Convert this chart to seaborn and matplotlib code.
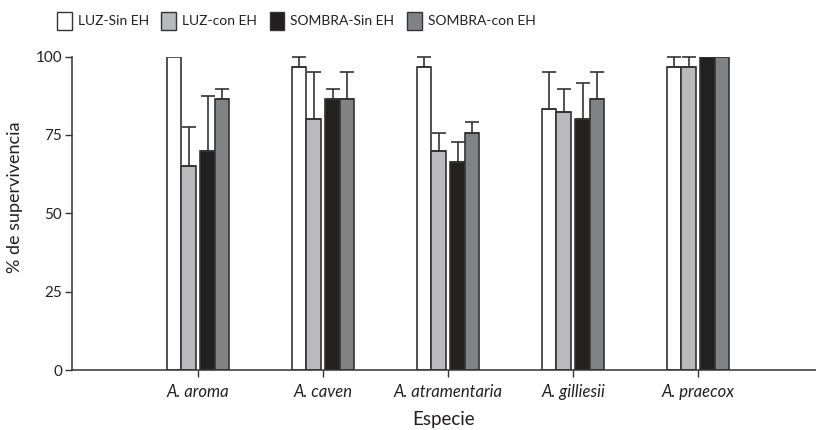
import numpy as np
import pandas as pd
import matplotlib.pyplot as plt
import matplotlib.patches as mpatches
import seaborn as sns

# Datos
especies = ['A. aroma', 'A. caven', 'A. atramentaria', 'A. gilliesii', 'A. praecox']
tratamientos = ['LUZ-Sin EH', 'LUZ-con EH', 'SOMBRA-Sin EH', 'SOMBRA-con EH']

luz_sin = [100, 96.7, 96.7, 83.3, 96.7]
luz_con = [65.2, 80.0, 69.7, 82.3, 96.7]
sombra_sin = [70.0, 86.5, 66.5, 80.0, 100]
sombra_con = [86.4, 86.4, 75.6, 86.4, 100]

# error (solo hacia arriba)
err_luz_sin = [0, 3.3, 3.3, 11.8, 3.3]
err_luz_con = [12.3, 15.0, 6.0, 7.3, 3.3]
err_sombra_sin = [17.3, 3.2, 6.3, 11.4, 0]
err_sombra_con = [3.1, 8.6, 3.4, 8.6, 0]

colores = ['#ffffff', '#b9babd', '#231f20', '#808285']

medias = [luz_sin, luz_con, sombra_sin, sombra_con]
errores = [err_luz_sin, err_luz_con, err_sombra_sin, err_sombra_con]

df = pd.DataFrame({
    'Especie': especies * len(tratamientos),
    'Tratamiento': np.repeat(tratamientos, len(especies)),
    'Supervivencia': np.concatenate(medias),
})

sns.set_style('ticks')
plt.rcParams['font.family'] = ['Lato', 'DejaVu Sans']
borde = '#333333'

fig, ax = plt.subplots(figsize=(8.16, 4.30), dpi=100)
fig.subplots_adjust(left=72/816, right=1.0, bottom=60/430, top=(430-56.5)/430)

ancho_grupo = 0.456
sns.barplot(data=df, x='Especie', y='Supervivencia', hue='Tratamiento',
            order=especies, hue_order=tratamientos,
            palette=dict(zip(tratamientos, colores)),
            width=ancho_grupo, errorbar=None, edgecolor=borde, linewidth=1.2,
            legend=False, ax=ax)

# separar los pares LUZ / SOMBRA y poner barras de error
slot = ancho_grupo / len(tratamientos)
sep = 0.019
for bar in list(ax.patches):
    c = bar.get_x() + bar.get_width() / 2
    k = int(round(c))
    h = int(round((c - k + ancho_grupo / 2 - slot / 2) / slot))
    d = -sep if h < 2 else sep
    bar.set_x(bar.get_x() + d)
    e = errores[h][k]
    if e > 0:
        ax.errorbar(c + d, bar.get_height(), yerr=[[0], [e]], fmt='none',
                    ecolor=borde, elinewidth=1.2, capsize=5.2, capthick=1.2,
                    clip_on=False, zorder=1)

ax.set_xlim(-1.008, 4.944)
ax.set_ylim(0, 100)
ax.set_yticks([0, 25, 50, 75, 100])
sns.despine(ax=ax)
for s in ['left', 'bottom']:
    ax.spines[s].set_color(borde)
    ax.spines[s].set_linewidth(1.1)
ax.tick_params(direction='out', length=5, width=1, colors=borde, labelcolor='#231f20')
ax.tick_params(axis='y', labelsize=11, pad=2)
ax.tick_params(axis='x', labelsize=12, pad=5)
for t in ax.get_xticklabels():
    t.set_fontstyle('italic')

ax.set_xlabel('Especie', fontsize=13.5, color='#231f20', labelpad=8)
ax.set_ylabel('% de supervivencia', fontsize=13, color='#231f20')
ax.yaxis.set_label_coords(-0.066, 0.55)

# leyenda arriba
handles = [mpatches.Rectangle((0, 0), 1, 1, facecolor=col, edgecolor=borde, linewidth=1)
           for col in colores]
fig.legend(handles=handles, labels=tratamientos, loc='upper left', ncol=4,
           bbox_to_anchor=(57 / 816, 1 - 11.5 / 430),
           frameon=False, borderpad=0, borderaxespad=0, fontsize=10,
           handlelength=1.05, handleheight=1.7, handletextpad=0.45,
           columnspacing=0.9, labelcolor='#231f20')

fig.savefig('out.png', dpi=100)
